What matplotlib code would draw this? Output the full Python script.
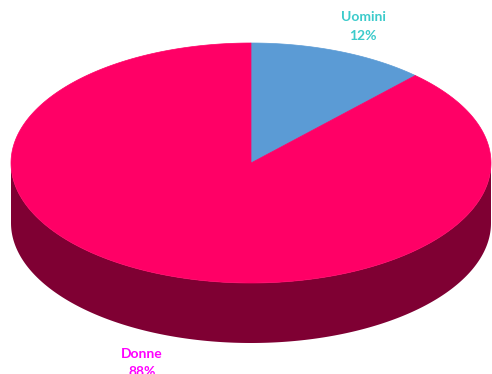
import numpy as np
import matplotlib.pyplot as plt
from matplotlib.patches import Polygon

labels = ["Uomini", "Donne"]
shares = [12, 88]
top_colors = ["#5b9bd5", "#ff0066"]
side_colors = ["#2e5a87", "#7f0033"]
label_colors = ["#3ccbcb", "#ff00ff"]

W, H = 492, 374
cx, cy = 251, 163      # centre of the top face (pixels)
rx, ry = 240, 120      # radii of the top ellipse
depth = 60             # thickness of the pie


def ellipse_pt(theta, dy=0.0):
    # theta in degrees, clockwise from 12 o'clock
    t = np.radians(theta)
    return cx + rx * np.sin(t), cy - ry * np.cos(t) + dy


fig = plt.figure(figsize=(W / 100, H / 100), dpi=100)
ax = fig.add_axes([0, 0, 1, 1])
ax.set_xlim(0, W)
ax.set_ylim(H, 0)
ax.axis("off")

fracs = np.array(shares, dtype=float) / sum(shares)
bounds = np.concatenate([[0], np.cumsum(fracs) * 360])

# side walls: only the front half (90..270 deg) is visible
for i in range(len(shares)):
    a0, a1 = max(bounds[i], 90), min(bounds[i + 1], 270)
    if a1 <= a0:
        continue
    th = np.linspace(a0, a1, 200)
    top = np.array([ellipse_pt(t) for t in th])
    bot = np.array([ellipse_pt(t, depth) for t in th[::-1]])
    ax.add_patch(Polygon(np.vstack([top, bot]), closed=True,
                         facecolor=side_colors[i], edgecolor="none"))

# top faces
for i in range(len(shares)):
    th = np.linspace(bounds[i], bounds[i + 1], 300)
    pts = np.array([(cx, cy)] + [ellipse_pt(t) for t in th])
    ax.add_patch(Polygon(pts, closed=True, facecolor=top_colors[i],
                         edgecolor=top_colors[i], linewidth=0.5))

# data labels
label_pos = [(363, 26), (142, 363)]
for i, (x, y) in enumerate(label_pos):
    ax.text(x, y, f"{labels[i]}\n{shares[i]}%", ha="center", va="center",
            color=label_colors[i], fontsize=10, fontweight="bold",
            family="Lato", linespacing=1.7)

# chart title, mostly above the visible area
ax.text(-8, -4, "Iscritti per genere", ha="left", va="baseline",
        color="#404040", fontsize=14, fontweight="bold", family="Lato")

fig.savefig("out.png", dpi=100)
